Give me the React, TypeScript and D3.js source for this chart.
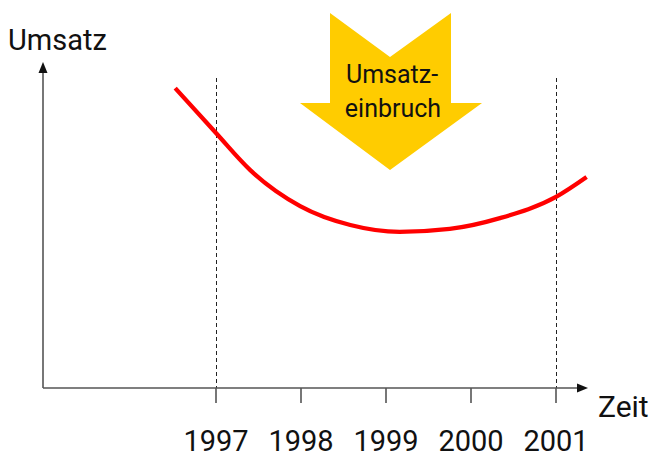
import React from 'react'
import * as d3 from 'd3'

// Umsatz curve (x in years, y in arbitrary units 0..100)
const curveYears = [1996.52, 1997.0, 1997.4, 1997.99, 1998.58, 1999.16, 1999.75, 2000.34, 2001.0, 2001.36]
const curveValues = [92.0, 78.2, 66.9, 55.8, 50.0, 47.9, 48.8, 52.1, 58.6, 64.7]

const tickYears = [1997, 1998, 1999, 2000, 2001]
const markedYears = [1997, 2001]

const width = 653
const height = 458
const font = 'Roboto, "Liberation Sans", sans-serif'

function App() {
  const x = d3.scaleLinear().domain([1997, 2001]).range([216, 556])
  const y = d3.scaleLinear().domain([0, 100]).range([388, 62])

  const originX = 43
  const originY = y(0)

  const line = d3
    .line<number>()
    .x((d, i) => x(curveYears[i]))
    .y((d) => y(d))
    .curve(d3.curveMonotoneX)

  // big yellow "down" arrow
  const arrow = [
    [330, 13], [390, 57], [451, 13], [451, 103], [482, 103],
    [390, 170], [300, 103], [330, 103],
  ]

  return (
    <div style={{ position: 'absolute', left: 0, top: 0 }}>
      <svg width={width} height={height} style={{ display: 'block' }}>
        <rect width={width} height={height} fill="#fff" />

        {/* dashed guides */}
        {markedYears.map((yr) => (
          <line key={yr} x1={x(yr)} x2={x(yr)} y1={78} y2={originY}
            stroke="#222" strokeWidth={1} strokeDasharray="4,3" shapeRendering="crispEdges" />
        ))}

        {/* axes */}
        <line x1={originX} x2={originX} y1={originY} y2={70} stroke="#555" strokeWidth={1.6} />
        <polygon points={`${originX},62 ${originX - 4.5},73 ${originX + 4.5},73`} fill="#111" />
        <line x1={originX} x2={579} y1={originY} y2={originY} stroke="#555" strokeWidth={1.6} />
        <polygon points={`588,${originY} 577,${originY - 4.5} 577,${originY + 4.5}`} fill="#111" />

        {tickYears.map((yr) => (
          <g key={yr}>
            <line x1={x(yr)} x2={x(yr)} y1={originY} y2={403} stroke="#555" strokeWidth={1.6} />
            <text x={x(yr)} y={451} textAnchor="middle" fontFamily={font} fontSize={29} fill="#111">{yr}</text>
          </g>
        ))}

        <text x={8} y={50} fontFamily={font} fontSize={29} fill="#111">Umsatz</text>
        <text x={598} y={417} fontFamily={font} fontSize={30} fill="#111">Zeit</text>

        {/* arrow */}
        <polygon points={arrow.map((p) => p.join(',')).join(' ')} fill="#FFCC00" />
        <text x={392} y={83} textAnchor="middle" fontFamily={font} fontSize={25} fill="#111">Umsatz-</text>
        <text x={393} y={117} textAnchor="middle" fontFamily={font} fontSize={25} fill="#111">einbruch</text>

        <path d={line(curveValues) || ''} fill="none" stroke="#ff0000" strokeWidth={4.3} strokeLinecap="butt" />
      </svg>
    </div>
  )
}

export default App
